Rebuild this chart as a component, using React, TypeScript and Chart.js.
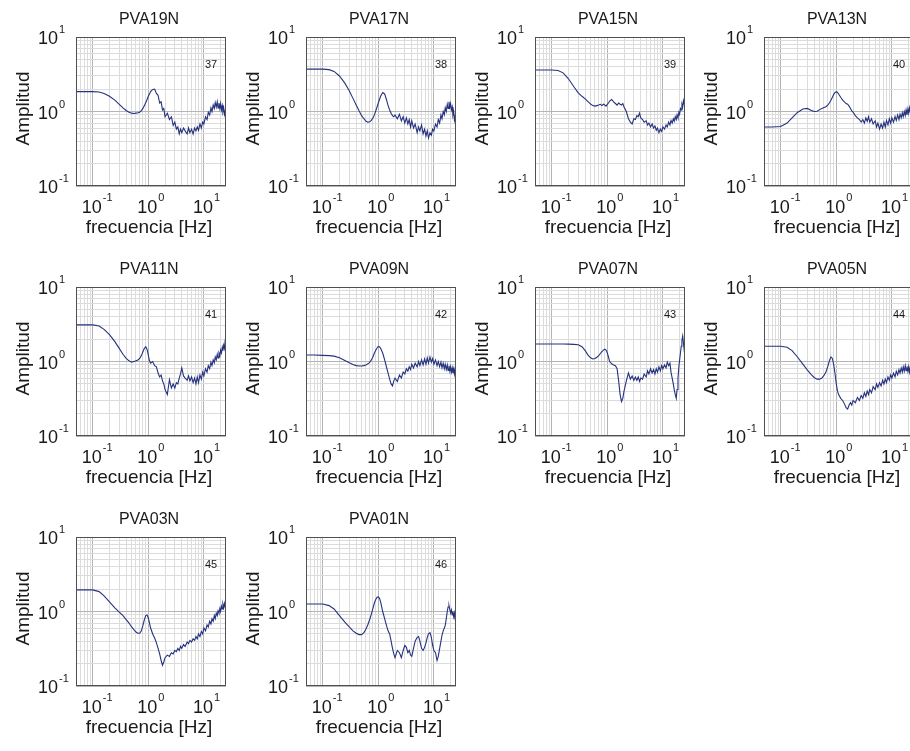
import React, { useEffect, useRef } from 'react';
import { Chart, registerables } from 'chart.js';

Chart.register(...registerables);

// Shared frequency grid [Hz]
const FREQ = [
  0.05, 0.07, 0.1, 0.13, 0.16, 0.2, 0.25, 0.3, 0.35, 0.4,
  0.45, 0.5, 0.55, 0.6, 0.65, 0.7, 0.75, 0.8, 0.85, 0.9,
  0.95, 1.0, 1.05, 1.1, 1.2, 1.3, 1.4, 1.5, 1.6, 1.7,
  1.8, 1.9, 2.0, 2.2, 2.4, 2.6, 2.8, 3.0, 3.2, 3.4,
  3.6, 3.8, 4.0, 4.3, 4.6, 5.0, 5.3, 5.6, 6.0, 6.4,
  6.8, 7.2, 7.6, 8.0, 8.5, 9.0, 9.5, 10, 10.7, 11.4,
  12, 12.7, 13.4, 14, 14.7, 15.4, 16, 16.7, 17.4, 18,
  18.7, 19.4, 20, 20.7, 21.4, 22, 22.7, 23.4, 24, 24.5,
  25,
];

const AMP_PVA19N = [
  1.85, 1.85, 1.85, 1.83, 1.75, 1.6, 1.42, 1.25, 1.12, 1.03,
  0.98, 0.95, 0.94, 0.95, 0.96, 0.98, 1.03, 1.1, 1.2, 1.32,
  1.45, 1.6, 1.72, 1.85, 1.98, 2.0, 1.75, 1.65, 1.3, 1.35,
  1.05, 1.1, 0.85, 0.95, 0.78, 0.85, 0.65, 0.72, 0.58, 0.62,
  0.5, 0.58, 0.52, 0.6, 0.55, 0.5, 0.6, 0.52, 0.58, 0.5,
  0.6, 0.55, 0.62, 0.56, 0.68, 0.6, 0.72, 0.68, 0.85, 0.78,
  0.98, 0.9, 1.12, 1.0, 1.22, 1.1, 1.32, 1.15, 1.35, 1.12,
  1.3, 1.1, 1.28, 1.05, 1.2, 1.0, 1.12, 0.92, 1.0, 0.85,
  0.88,
];
const AMP_PVA17N = [
  3.7, 3.7, 3.7, 3.65, 3.45, 3.0, 2.4, 1.9, 1.5, 1.22,
  1.02, 0.88, 0.8, 0.74, 0.72, 0.73, 0.76, 0.82, 0.9, 1.02,
  1.15, 1.3, 1.45, 1.6, 1.8, 1.72, 1.45, 1.2, 1.05, 0.95,
  0.88, 0.85, 0.9, 0.8, 0.92, 0.75, 0.85, 0.7, 0.82, 0.68,
  0.78, 0.62, 0.75, 0.6, 0.68, 0.52, 0.62, 0.55, 0.66, 0.5,
  0.58, 0.47, 0.55, 0.44, 0.52, 0.48, 0.58, 0.55, 0.68, 0.62,
  0.78, 0.7, 0.9, 0.8, 1.0, 0.9, 1.12, 1.0, 1.25, 1.1,
  1.35, 1.15, 1.28, 1.05, 1.15, 0.9, 1.0, 0.78, 0.85, 0.65,
  0.6,
];
const AMP_PVA15N = [
  3.6, 3.6, 3.6, 3.55, 3.3, 2.75, 2.15, 1.78, 1.6, 1.48,
  1.36, 1.26, 1.2, 1.18, 1.2, 1.22, 1.25, 1.2, 1.25, 1.22,
  1.18, 1.25, 1.3, 1.38, 1.45, 1.35, 1.28, 1.22, 1.3, 1.25,
  1.22, 1.28, 1.15, 1.0, 0.8, 0.72, 0.68, 0.8, 0.78, 0.88,
  0.85, 0.95, 0.82, 0.78, 0.72, 0.75, 0.66, 0.7, 0.62, 0.68,
  0.6, 0.64, 0.56, 0.6, 0.52, 0.58, 0.54, 0.62, 0.58, 0.66,
  0.62, 0.72, 0.66, 0.76, 0.7, 0.8, 0.74, 0.85, 0.78, 0.9,
  0.82, 0.98, 0.92, 1.1, 1.05, 1.25, 1.15, 1.4, 1.3, 1.2,
  1.05,
];
const AMP_PVA13N = [
  0.62, 0.62, 0.63, 0.7, 0.82, 0.97, 1.08, 1.1, 1.04, 1.0,
  1.01, 1.06, 1.1, 1.13, 1.16, 1.22, 1.3, 1.42, 1.55, 1.7,
  1.8, 1.85, 1.8, 1.72, 1.55, 1.42, 1.35, 1.28, 1.25, 1.18,
  1.1, 1.02, 0.98, 0.88, 0.82, 0.78, 0.72, 0.78, 0.7, 0.82,
  0.74, 0.85, 0.72, 0.8, 0.68, 0.75, 0.62, 0.7, 0.58, 0.68,
  0.6, 0.72, 0.62, 0.76, 0.66, 0.8, 0.7, 0.82, 0.72, 0.86,
  0.76, 0.9, 0.78, 0.92, 0.82, 0.96, 0.85, 1.0, 0.88, 1.05,
  0.9, 1.08, 0.95, 1.12, 0.98, 1.15, 1.0, 1.15, 1.05, 1.1,
  1.08,
];
const AMP_PVA11N = [
  3.1, 3.1, 3.1, 3.0, 2.7, 2.3, 1.85, 1.5, 1.25, 1.1,
  1.02, 0.98, 1.0, 1.02, 1.05, 1.1, 1.2, 1.35, 1.5, 1.58,
  1.45, 1.22, 1.02, 0.95, 1.0, 0.88, 0.85, 0.7, 0.62, 0.66,
  0.55, 0.5, 0.42, 0.36, 0.57, 0.44, 0.5, 0.44, 0.52, 0.5,
  0.6, 0.68, 0.82, 0.64, 0.6, 0.56, 0.64, 0.55, 0.62, 0.52,
  0.6, 0.5, 0.62, 0.52, 0.66, 0.58, 0.72, 0.64, 0.8, 0.72,
  0.88, 0.8, 0.98, 0.88, 1.05, 0.96, 1.15, 1.05, 1.25, 1.12,
  1.3, 1.2, 1.42, 1.3, 1.55, 1.4, 1.65, 1.5, 1.8, 1.65,
  1.85,
];
const AMP_PVA09N = [
  1.22, 1.22, 1.21, 1.2, 1.18, 1.12, 1.03, 0.96, 0.91, 0.88,
  0.87, 0.87, 0.88, 0.9, 0.93, 0.97, 1.05, 1.15, 1.3, 1.42,
  1.52, 1.6, 1.58, 1.5, 1.3, 1.05, 0.85, 0.7, 0.58, 0.5,
  0.47, 0.55, 0.6, 0.54, 0.66, 0.6, 0.72, 0.68, 0.8, 0.74,
  0.85, 0.78, 0.92, 0.82, 0.95, 0.85, 1.0, 0.88, 1.05, 0.9,
  1.08, 0.92, 1.12, 0.95, 1.15, 0.98, 1.1, 0.92, 1.05, 0.88,
  1.0, 0.85, 0.98, 0.82, 0.95, 0.8, 0.92, 0.78, 0.9, 0.76,
  0.88, 0.74, 0.85, 0.72, 0.82, 0.7, 0.8, 0.68, 0.78, 0.7,
  0.72,
];
const AMP_PVA07N = [
  1.72, 1.72, 1.72, 1.72, 1.72, 1.71, 1.7, 1.68, 1.58, 1.4,
  1.22, 1.12, 1.08, 1.1, 1.14, 1.2, 1.28, 1.36, 1.42, 1.46,
  1.42, 1.3, 1.15, 1.0, 0.93, 0.9, 0.88, 0.8, 0.55, 0.36,
  0.29, 0.32, 0.4, 0.55, 0.7, 0.58, 0.64, 0.56, 0.62, 0.56,
  0.62, 0.54, 0.6, 0.58, 0.68, 0.62, 0.75, 0.68, 0.8, 0.7,
  0.78, 0.68, 0.8, 0.72, 0.85, 0.75, 0.88, 0.8, 0.9, 0.82,
  0.98, 0.88, 0.95, 0.72, 0.6, 0.5, 0.42, 0.36, 0.32, 0.42,
  0.6, 0.85, 1.05, 1.3, 1.6, 1.9, 2.2, 1.8, 1.5, 1.3,
  1.2,
];
const AMP_PVA05N = [
  1.6, 1.6, 1.6, 1.55, 1.4, 1.15, 0.92, 0.77, 0.67, 0.61,
  0.58, 0.58, 0.6, 0.65, 0.72, 0.85, 1.02, 1.15, 1.1, 0.9,
  0.68, 0.5, 0.4, 0.36, 0.32, 0.3, 0.27, 0.24, 0.23, 0.26,
  0.28, 0.26, 0.3, 0.28, 0.33, 0.3, 0.35, 0.32, 0.38, 0.34,
  0.4, 0.36, 0.42, 0.38, 0.46, 0.42, 0.5, 0.45, 0.52, 0.47,
  0.56, 0.5, 0.58, 0.52, 0.62, 0.56, 0.66, 0.6, 0.7, 0.62,
  0.74, 0.66, 0.78, 0.7, 0.82, 0.72, 0.85, 0.74, 0.88, 0.75,
  0.86, 0.74, 0.85, 0.72, 0.84, 0.72, 0.82, 0.72, 0.8, 0.74,
  0.78,
];
const AMP_PVA03N = [
  1.95, 1.95, 1.95, 1.85, 1.62, 1.35, 1.12, 0.98, 0.88, 0.78,
  0.7, 0.62, 0.57, 0.53, 0.51, 0.51, 0.55, 0.65, 0.78, 0.88,
  0.9, 0.82, 0.7, 0.6, 0.5, 0.44, 0.38, 0.32, 0.27, 0.22,
  0.19, 0.21, 0.24, 0.26, 0.25, 0.28, 0.27, 0.3, 0.29, 0.32,
  0.3, 0.34, 0.32, 0.36, 0.34, 0.39, 0.37, 0.41, 0.39, 0.43,
  0.41, 0.46, 0.43, 0.5, 0.46, 0.54, 0.5, 0.6, 0.55, 0.66,
  0.62, 0.74, 0.68, 0.8, 0.74, 0.88, 0.8, 0.95, 0.88, 1.02,
  0.95, 1.1, 1.0, 1.18, 1.08, 1.25, 1.12, 1.28, 1.15, 1.2,
  1.1,
];
const AMP_PVA01N = [
  1.26, 1.26, 1.26, 1.2, 1.08, 0.88, 0.72, 0.62, 0.55, 0.51,
  0.49, 0.49, 0.52, 0.58, 0.67, 0.78, 0.92, 1.1, 1.3, 1.45,
  1.55, 1.57, 1.5, 1.35, 1.0, 0.8, 0.65, 0.55, 0.5, 0.4,
  0.32, 0.27, 0.24, 0.3, 0.28, 0.24, 0.3, 0.35, 0.33, 0.28,
  0.3, 0.26, 0.25, 0.32, 0.4, 0.45, 0.46, 0.4, 0.32, 0.3,
  0.33, 0.38, 0.45, 0.5, 0.52, 0.45, 0.35, 0.3, 0.28, 0.22,
  0.25, 0.32, 0.4, 0.48, 0.55, 0.6, 0.65, 0.8, 1.0, 1.15,
  1.2, 1.05, 0.95, 1.05, 0.9, 1.0, 0.85, 0.95, 0.8, 0.75,
  0.7,
];

const TITLES = ['PVA19N', 'PVA17N', 'PVA15N', 'PVA13N', 'PVA11N', 'PVA09N', 'PVA07N', 'PVA05N', 'PVA03N', 'PVA01N'];
const NUMBERS = ['37', '38', '39', '40', '41', '42', '43', '44', '45', '46'];
const SERIES = [AMP_PVA19N, AMP_PVA17N, AMP_PVA15N, AMP_PVA13N, AMP_PVA11N, AMP_PVA09N, AMP_PVA07N, AMP_PVA05N, AMP_PVA03N, AMP_PVA01N];

const X_LABEL = 'frecuencia [Hz]';
const Y_LABEL = 'Amplitud';
const X_TICK_VALUES = [0.1, 1, 10];
const X_TICK_EXPS = ['-1', '0', '1'];
const Y_TICK_VALUES = [0.1, 1, 10];
const Y_TICK_EXPS = ['-1', '0', '1'];
const X_GRID = [0.05, 0.06, 0.07, 0.08, 0.09, 0.1, 0.2, 0.3, 0.4, 0.5, 0.6, 0.7, 0.8, 0.9, 1, 2, 3, 4, 5, 6, 7, 8, 9, 10, 20];
const Y_GRID = [0.1, 0.2, 0.3, 0.4, 0.5, 0.6, 0.7, 0.8, 0.9, 1, 2, 3, 4, 5, 6, 7, 8, 9, 10];

// layout
const COL_LEFT = [76, 306, 535, 764];
const ROW_TOP = [37, 287, 537];
const PLOT_LEFT = 76;
const PLOT_TOP = 37;
const CANVAS_W = 232;
const CANVAS_H = 250;

const FONT = '"Liberation Sans", Arial, Helvetica, sans-serif';
const TEXT = '#1a1a1a';
const LINE = '#25327e';
const MAJOR = '#b4b4b4';
const MINOR = '#dcdcdc';

const isMajor = (v: number) => Math.abs(Math.log10(v) - Math.round(Math.log10(v))) < 1e-6;

function Panel({ idx }: { idx: number }) {
  const ref = useRef<HTMLCanvasElement>(null);
  const col = idx % 4;
  const row = Math.floor(idx / 4);
  const title = TITLES[idx];
  const num = NUMBERS[idx];
  const amp = SERIES[idx];

  useEffect(() => {
    const decor = {
      id: 'decor',
      afterDraw(chart: any) {
        const { ctx, chartArea: a, scales } = chart;
        ctx.save();
        // frame
        ctx.strokeStyle = '#505050';
        ctx.lineWidth = 1;
        ctx.strokeRect(a.left + 0.5, a.top + 0.5, a.right - a.left - 1, a.bottom - a.top - 1);
        ctx.fillStyle = TEXT;
        const cx = (a.left + a.right) / 2;
        // title
        ctx.textAlign = 'center';
        ctx.textBaseline = 'alphabetic';
        ctx.font = `16px ${FONT}`;
        ctx.fillText(title, cx - 2, a.top - 13);
        // panel number
        ctx.font = `11px ${FONT}`;
        ctx.fillText(num, a.right - 15, a.top + 31);
        // x label
        ctx.font = `19px ${FONT}`;
        ctx.fillText(X_LABEL, cx - 2, a.bottom + 47);
        // y label
        ctx.save();
        ctx.translate(29, (a.top + a.bottom) / 2 - 3);
        ctx.rotate(-Math.PI / 2);
        ctx.font = `19px ${FONT}`;
        ctx.fillText(Y_LABEL, 0, 0);
        ctx.restore();
        // x tick labels
        X_TICK_VALUES.forEach((v, i) => {
          const px = scales.x.getPixelForValue(v);
          ctx.font = `18px ${FONT}`;
          ctx.textAlign = 'left';
          const dx = px - 11;
          ctx.fillText('10', dx, a.bottom + 27);
          const w = ctx.measureText('10').width;
          ctx.font = `11px ${FONT}`;
          ctx.fillText(X_TICK_EXPS[i], dx + w + 1, a.bottom + 15);
        });
        // y tick labels
        Y_TICK_VALUES.forEach((v, i) => {
          const py = scales.y.getPixelForValue(v);
          ctx.font = `18px ${FONT}`;
          ctx.textAlign = 'right';
          ctx.fillText('10', a.left - 18, py + 7);
          ctx.font = `11px ${FONT}`;
          ctx.textAlign = 'left';
          ctx.fillText(Y_TICK_EXPS[i], a.left - 17, py - 4);
        });
        ctx.restore();
      },
    };

    const chart = new Chart(ref.current as HTMLCanvasElement, {
      type: 'line',
      data: {
        datasets: [
          {
            data: FREQ.map((f, i) => ({ x: f, y: amp[i] })),
            borderColor: LINE,
            borderWidth: 1.1,
            pointRadius: 0,
            tension: 0,
            fill: false,
          },
        ],
      },
      options: {
        responsive: false,
        animation: false,
        devicePixelRatio: 1,
        layout: { padding: { left: 0, top: PLOT_TOP, right: CANVAS_W - 226, bottom: 0 } },
        plugins: { legend: { display: false }, tooltip: { enabled: false }, title: { display: false } },
        scales: {
          x: {
            type: 'logarithmic',
            min: 0.05,
            max: 25,
            afterBuildTicks: (s: any) => {
              s.ticks = X_GRID.map((v) => ({ value: v }));
            },
            afterFit: (s: any) => {
              s.height = CANVAS_H - 186;
            },
            ticks: { display: false },
            grid: {
              drawTicks: false,
              color: (c: any) => (c.tick && isMajor(c.tick.value) ? MAJOR : MINOR),
              lineWidth: 1,
            },
            border: { display: false },
          },
          y: {
            type: 'logarithmic',
            min: 0.1,
            max: 10,
            afterBuildTicks: (s: any) => {
              s.ticks = Y_GRID.map((v) => ({ value: v }));
            },
            afterFit: (s: any) => {
              s.width = PLOT_LEFT;
            },
            ticks: { display: false },
            grid: {
              drawTicks: false,
              color: (c: any) => (c.tick && isMajor(c.tick.value) ? MAJOR : MINOR),
              lineWidth: 1,
            },
            border: { display: false },
          },
        },
      } as any,
      plugins: [decor],
    });
    return () => chart.destroy();
  }, []);

  return (
    <canvas
      ref={ref}
      width={CANVAS_W}
      height={CANVAS_H}
      style={{
        position: 'absolute',
        left: COL_LEFT[col] - PLOT_LEFT,
        top: ROW_TOP[row] - PLOT_TOP,
        width: CANVAS_W,
        height: CANVAS_H,
      }}
    />
  );
}

export default function App() {
  return (
    <div
      style={{
        position: 'absolute',
        left: 0,
        top: 0,
        width: 910,
        height: 751,
        overflow: 'hidden',
        background: '#ffffff',
      }}
    >
      {TITLES.map((_, i) => (
        <Panel key={i} idx={i} />
      ))}
    </div>
  );
}
